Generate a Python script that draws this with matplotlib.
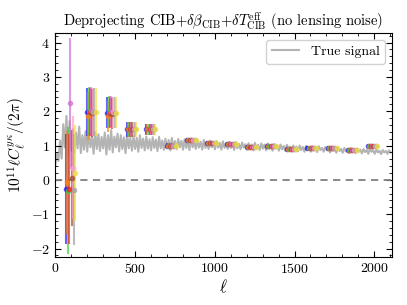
import numpy as np
import matplotlib
matplotlib.use("Agg")
import matplotlib.pyplot as plt
from matplotlib.ticker import MultipleLocator

plt.rcParams['font.family'] = 'serif'
plt.rcParams['font.serif'] = ['cmr10']
plt.rcParams['mathtext.fontset'] = 'cm'
plt.rcParams['axes.formatter.use_mathtext'] = True
plt.rcParams['axes.unicode_minus'] = False

# true signal, read every 10 in ell starting at ell=2
ell_true = np.arange(2, 2110, 10)
true_signal = [
    0.42, 0.78, 0.55, 1.15, 0.62, 1.62, 0.95, 1.86, 0.70, 1.72,
    0.85, 1.48, 0.80, 1.38, 0.92, 1.55, 0.78, 1.30, 0.88, 1.42,
    0.82, 1.36, 0.95, 1.28, 0.76, 1.40, 0.90, 1.33, 0.84, 1.25,
    0.92, 1.38, 0.74, 1.30, 0.88, 1.45, 0.80, 1.26, 0.95, 1.35,
    0.83, 1.30, 0.90, 1.24, 0.78, 1.34, 0.92, 1.22, 0.85, 1.28,
    0.90, 1.22, 0.82, 1.30, 0.93, 1.20, 0.86, 1.26, 0.91, 1.18,
    0.86, 1.24, 0.93, 1.17, 0.84, 1.25, 0.92, 1.15, 0.88, 1.20,
    0.93, 1.16, 0.86, 1.22, 0.94, 1.13, 0.89, 1.19, 0.95, 1.14,
    0.88, 1.18, 0.93, 1.12, 0.87, 1.20, 0.95, 1.10, 0.90, 1.15,
    0.94, 1.11, 0.88, 1.16, 0.93, 1.09, 0.90, 1.14, 0.95, 1.08,
    0.89, 1.13, 0.94, 1.08, 0.88, 1.12, 0.93, 1.07, 0.90, 1.11,
    0.93, 1.06, 0.87, 1.10, 0.92, 1.05, 0.89, 1.09, 0.94, 1.04,
    0.88, 1.07, 0.91, 1.03, 0.86, 1.08, 0.92, 1.02, 0.87, 1.06,
    0.91, 1.03, 0.86, 1.06, 0.90, 1.01, 0.85, 1.04, 0.91, 1.00,
    0.85, 1.03, 0.89, 0.99, 0.84, 1.02, 0.88, 0.97, 0.83, 1.00,
    0.88, 0.97, 0.83, 1.00, 0.87, 0.96, 0.82, 0.99, 0.88, 0.95,
    0.82, 0.97, 0.86, 0.94, 0.81, 0.98, 0.87, 0.93, 0.82, 0.96,
    0.86, 0.92, 0.80, 0.95, 0.85, 0.91, 0.79, 0.94, 0.84, 0.90,
    0.79, 0.93, 0.83, 0.89, 0.78, 0.92, 0.84, 0.88, 0.78, 0.91,
    0.82, 0.88, 0.77, 0.90, 0.81, 0.87, 0.76, 0.89, 0.82, 0.86,
    0.76, 0.88, 0.80, 0.85, 0.75, 0.87, 0.80, 0.84, 0.76, 0.86,
    0.80,
]

# binned reconstructions
ell_bins = np.array([97, 226, 352, 478, 600, 727, 853, 979, 1105, 1231,
                     1357, 1483, 1609, 1735, 1861, 1987])
base_vals = np.array([0.0, 1.97, 1.95, 1.47, 1.47, 1.00, 1.16, 1.07, 1.04, 0.96,
                      0.99, 0.90, 0.93, 0.93, 0.87, 0.99])
base_errs = np.array([1.6, 0.70, 0.45, 0.22, 0.15, 0.08, 0.06, 0.05, 0.05, 0.05,
                      0.05, 0.045, 0.045, 0.045, 0.045, 0.045])

colors = ['#1f1fff', '#ff7f0e', '#3fcf3f', '#ff2020', '#d070d0',
          '#a0522d', '#ff9fd0', '#a0a0a0', '#f0e040']
first_bin = [-0.26, -0.07, -0.32, -0.26, 2.23, 0.05, 0.36, -0.29, 0.19]
first_err = [1.60, 1.50, 1.85, 1.60, 1.90, 1.40, 1.50, 1.62, 1.40]
shift_23 = [0.0, -0.10, 0.03, 0.0, 0.03, -0.02, 0.02, 0.0, 0.0]
offsets = [-28, -21, -14, -7, 0, 7, 14, 21, 28]

fig = plt.figure(figsize=(4.07, 3.05), dpi=100)
ax = fig.add_axes([0.135, 0.157, 0.828, 0.735])

ax.plot(ell_true, true_signal, color='#b4b4b4', lw=1.5, label='True signal', zorder=1)
ax.axhline(0, color='gray', ls='--', lw=1.3, dashes=(4, 3), zorder=2)

for i, c in enumerate(colors):
    vals = base_vals.copy()
    errs = base_errs.copy()
    vals[0] = first_bin[i]
    errs[0] = first_err[i]
    vals[1] += shift_23[i]
    vals[2] += shift_23[i]
    ax.errorbar(ell_bins + offsets[i], vals, yerr=errs, fmt='o', color=c,
                ms=3, lw=1.5, alpha=0.7, zorder=3)

ax.set_xlim(0, 2110)
ax.set_ylim(-2.25, 4.28)
ax.xaxis.set_major_locator(MultipleLocator(500))
ax.xaxis.set_minor_locator(MultipleLocator(100))
ax.yaxis.set_major_locator(MultipleLocator(1))
ax.yaxis.set_minor_locator(MultipleLocator(0.2))
ax.tick_params(which='both', direction='in', top=True, right=True, labelsize=10)
ax.tick_params(which='major', length=4)
ax.tick_params(which='minor', length=2)

ax.set_xlabel(r'$\ell$', fontsize=12, labelpad=1)
ax.set_ylabel(r'$10^{11}\ell C_\ell^{y\kappa}/(2\pi)$', fontsize=11, labelpad=2)
ax.set_title(r'Deprojecting CIB+$\delta\beta_{\rm CIB}$+$\delta T_{\rm CIB}^{\rm eff}$ (no lensing noise)',
             fontsize=10.5, pad=3)
ax.legend(loc='upper right', fontsize=10, framealpha=0.9)

fig.savefig('out.png', dpi=100)
